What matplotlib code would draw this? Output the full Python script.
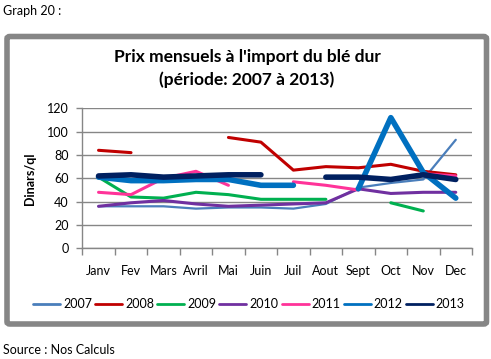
import numpy as np
import matplotlib.pyplot as plt
from matplotlib.patches import FancyBboxPatch

plt.rcParams['font.family'] = ['Lato', 'DejaVu Sans']

# ------------------------------------------------------------
# DATA (Dinars/ql; None = no value)
# ------------------------------------------------------------
mois = ['Janv', 'Fev', 'Mars', 'Avril', 'Mai', 'Juin',
        'Juil', 'Aout', 'Sept', 'Oct', 'Nov', 'Dec']

p2007 = [36, 36, 36, 34, 35, 35, 34, 38, 52, 56, 59, 93]
p2008 = [84, 82, None, None, 95, 91, 67, 70, 69, 72, 66, 63]
p2009 = [61, 44, 43, 48, 46, 42, 42, 42, None, 39, 32, None]
p2010 = [36, 39, 41, 38, 36, 37, 38, 39, 51, 47, 48, 48]
p2011 = [48, 46, 60, 66, 54, None, 57, 54, 50, None, 64, 62]
p2012 = [61, 58, 58, 59, 59, 54, 54, None, 51, 112, 65, 43]
p2013 = [62, 63, 61, 62, 63, 63, None, 61, 61, 59, 63, 59]

annees = ['2007', '2008', '2009', '2010', '2011', '2012', '2013']
couleurs = ['#4A7EBB', '#C00000', '#00B050', '#7030A0',
            '#FF3399', '#0070C0', '#002060']
epaisseurs = [1.6, 2.2, 2.2, 2.2, 2.2, 4.0, 4.0]

series = [p2007, p2008, p2009, p2010, p2011, p2012, p2013]

# ------------------------------------------------------------
# FIGURE
# ------------------------------------------------------------
W, H = 491, 359
fig = plt.figure(figsize=(W / 100, H / 100), dpi=100)

def fx(px):
    return px / W

def fy(py):
    return 1 - py / H

# chart frame (gray rounded border)
cadre = FancyBboxPatch((fx(7), fy(324)), fx(486.5) - fx(7), fy(36.5) - fy(324),
                       boxstyle='round,pad=0,rounding_size=0.006',
                       transform=fig.transFigure, fill=False,
                       edgecolor='#868686', linewidth=4.0)
fig.patches.append(cadre)

fig.text(fx(3), fy(11), 'Graph 20 :', fontsize=9, va='center', ha='left')
fig.text(fx(3), fy(350), 'Source : Nos Calculs', fontsize=9, va='center', ha='left')

fig.text(fx(247), fy(57), "Prix mensuels à l'import du blé dur",
         fontsize=12.5, fontweight='bold', ha='center', va='center')
fig.text(fx(247), fy(80), "(période: 2007 à 2013)",
         fontsize=12.5, fontweight='bold', ha='center', va='center')

ax = fig.add_axes([fx(82.3), fy(248.3), fx(472) - fx(82.3), fy(108.3) - fy(248.3)])

x = np.arange(len(mois))
for nom, vals, c, lw in zip(annees, series, couleurs, epaisseurs):
    y = np.array([np.nan if v is None else v for v in vals], dtype=float)
    ax.plot(x, y, color=c, linewidth=lw, solid_capstyle='round',
            solid_joinstyle='round', label=nom)

ax.set_xlim(-0.5, len(mois) - 0.5)
ax.set_ylim(0, 120)
ax.set_yticks(np.arange(0, 121, 20))
ax.yaxis.grid(True, color='#868686', linewidth=1.0)
ax.set_axisbelow(True)

ax.set_xticks(x)
ax.set_xticklabels(mois, fontsize=9)
ax.set_xticks(np.arange(-0.5, len(mois), 1), minor=True)
ax.tick_params(axis='x', which='major', length=0, pad=12)
ax.tick_params(axis='x', which='minor', length=5, color='#868686', width=1)
ax.tick_params(axis='y', length=4, color='#868686', width=1, labelsize=9, pad=6)

for s in ['top', 'right']:
    ax.spines[s].set_visible(False)
for s in ['left', 'bottom']:
    ax.spines[s].set_color('#868686')
    ax.spines[s].set_linewidth(1.0)

ax.set_ylabel('Dinars/ql', fontsize=9, fontweight='bold', labelpad=8)

leg = fig.legend(loc='center', bbox_to_anchor=(fx(249), fy(304)), ncol=7,
                 frameon=False, fontsize=9, handlelength=2.15, handletextpad=0.25,
                 columnspacing=0.25, borderaxespad=0)
for h in leg.get_lines():
    h.set_linewidth(2.0)

fig.savefig('out.png', dpi=100)
